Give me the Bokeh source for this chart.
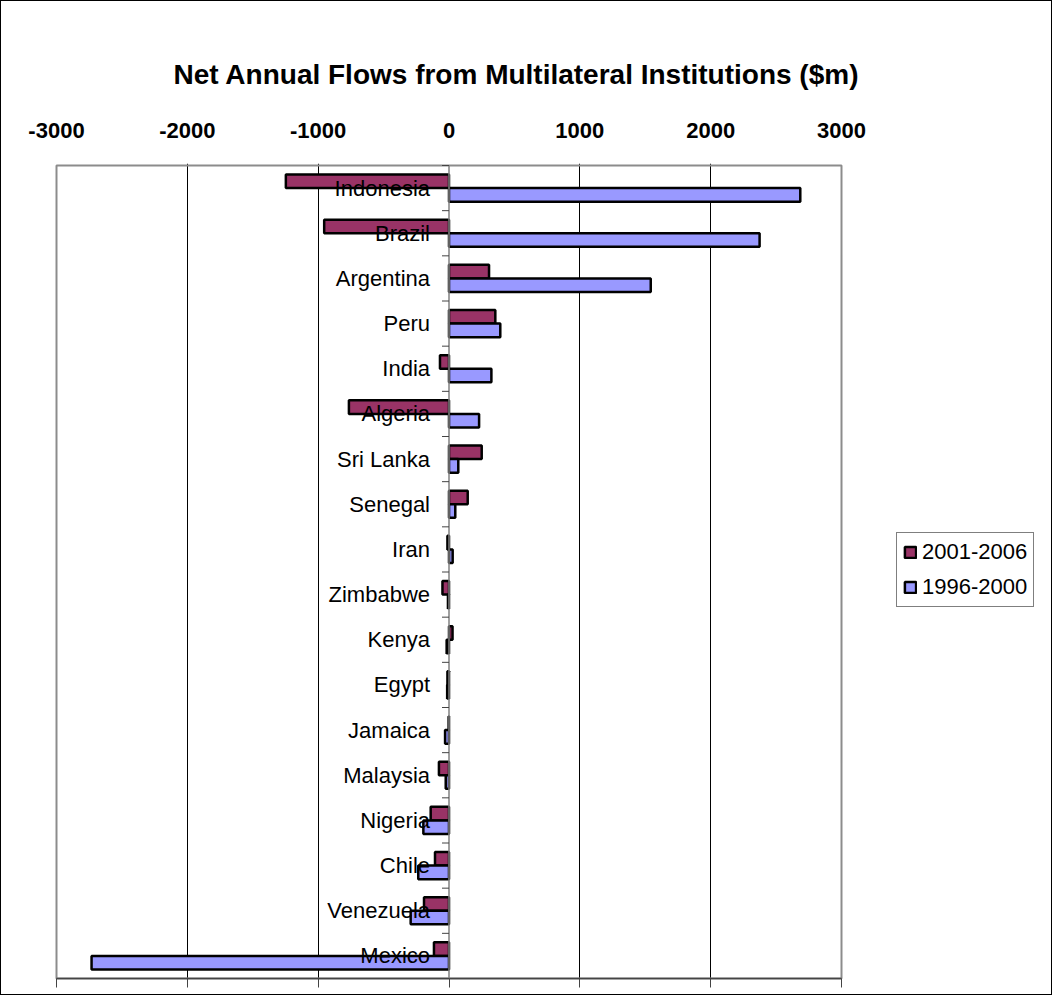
from bokeh.plotting import figure
from bokeh.models import (LinearAxis, Legend, LegendItem, FixedTicker, Range1d, Title,
                          PrintfTickFormatter)
from bokeh.embed import file_html
from bokeh.resources import INLINE
from bokeh.core.properties import value
import numpy as np

title_text = "Net Annual Flows from Multilateral Institutions ($m)"
countries = ["Indonesia", "Brazil", "Argentina", "Peru", "India", "Algeria", "Sri Lanka",
             "Senegal", "Iran", "Zimbabwe", "Kenya", "Egypt", "Jamaica", "Malaysia",
             "Nigeria", "Chile", "Venezuela", "Mexico"]
flows_2001_2006 = [-1247, -954, 306, 354, -69, -765, 250, 143, -12, -50, 27, -12, -3, -77,
                   -140, -107, -191, -115]
flows_1996_2000 = [2685, 2374, 1542, 392, 324, 230, 71, 48, 28, -8, -18, -14, -30, -25,
                   -196, -235, -293, -2732]
series_names = ["2001-2006", "1996-2000"]
x_ticks = [-3000, -2000, -1000, 0, 1000, 2000, 3000]
grid_ticks = [-2000, -1000, 1000, 2000]

RED = "#993366"
BLUE = "#9999FF"
FONT = "Liberation Sans"

W, H = 1052, 995
n = len(countries)
XMIN, XMAX = x_ticks[0], x_ticks[-1]
# plot area in figure pixels: x from 55 to 840, y from 164 (top) to 977 (bottom)
PL, PR, PT, PB = 55, 840, 164, 977
ux = (XMAX - XMIN) / (PR - PL)          # data units per pixel
uy = n / (PB - PT)
FL, FT, FB = PL - 2, PT - 2, PB + 2      # frame slightly larger so borders are not clipped
X_END = XMAX + (W - PR) * ux

pos = np.arange(n)[::-1] + 0.5

p = figure(width=W, height=H,
           x_range=Range1d(XMIN - (PL - FL) * ux, X_END),
           y_range=Range1d(-(FB - PB) * uy, n + (PT - FT) * uy),
           x_axis_location="above", y_axis_location=None,
           output_backend="svg", toolbar_location=None,
           min_border_left=FL, min_border_right=0,
           min_border_top=FT, min_border_bottom=H - FB)
p.styles = {"border": "1px solid black"}
p.background_fill_color = "white"
p.border_fill_color = "white"
p.outline_line_color = None

# top axis (labels)
ax = p.xaxis[0]
ax.ticker = FixedTicker(ticks=x_ticks)
ax.formatter = PrintfTickFormatter(format="%d")
ax.axis_line_color = None
ax.major_tick_out = 0
ax.major_tick_in = 0
ax.minor_tick_out = 0
ax.minor_tick_in = 0
ax.major_label_standoff = 26
ax.major_label_text_font = FONT
ax.major_label_text_font_size = "22px"
ax.major_label_text_font_style = "bold"
ax.major_label_text_color = "black"

# empty gap between the axis labels and the title (a white tick in the blank right corner)
p.add_layout(LinearAxis(ticker=FixedTicker(ticks=[X_END - 20 * ux]), axis_line_color=None,
                        major_tick_line_color="white", minor_tick_line_color=None,
                        major_tick_out=25, major_tick_in=0, minor_tick_out=0, minor_tick_in=0,
                        major_label_standoff=0, major_label_text_color=None), "above")

p.add_layout(Title(text=title_text, align="left", offset=119, standoff=10,
                   text_font=FONT, text_font_size="28px", text_font_style="bold",
                   text_color="black"), "above")

# bottom axis (ticks only)
bax = LinearAxis(ticker=FixedTicker(ticks=x_ticks), major_label_text_color=None,
                 axis_line_color=None, major_tick_line_color="#444444",
                 major_tick_out=7, major_tick_in=2, minor_tick_out=0, minor_tick_in=0,
                 major_label_standoff=0, major_label_text_font_size="8px")
p.add_layout(bax, "below")

p.xgrid.ticker = FixedTicker(ticks=grid_ticks)
p.xgrid.grid_line_color = "black"
p.xgrid.grid_line_width = 1
p.ygrid.visible = False

# plot-area border and bottom axis line
p.quad(left=XMIN, right=XMAX, bottom=0, top=n, fill_color=None,
       line_color="#8c8c8c", line_width=2)
p.segment(x0=XMIN, x1=XMAX, y0=0, y1=0, line_color="#444444", line_width=1.5)

r_red = p.hbar(y=pos + 0.15, left=0, right=flows_2001_2006, height=0.3,
               fill_color=RED, line_color="black", line_width=2.5)
r_blue = p.hbar(y=pos - 0.15, left=0, right=flows_1996_2000, height=0.3,
                fill_color=BLUE, line_color="black", line_width=2.5)

# category axis crossing at zero, with ticks between categories
p.segment(x0=0, x1=0, y0=0, y1=n, line_color="#808080", line_width=1.5)
bounds = np.arange(n + 1)
p.segment(x0=-7 * ux, x1=0, y0=bounds, y1=bounds, line_color="#444444", line_width=1)

p.text(x=np.zeros(n), y=pos, text=countries, x_offset=-19, text_align="right",
       text_baseline="middle", text_font=value(FONT), text_font_size="22px",
       text_color="black")

legend = Legend(items=[LegendItem(label=series_names[0], renderers=[r_red]),
                       LegendItem(label=series_names[1], renderers=[r_blue])],
                location=(895 - FL, FB - 606), orientation="vertical",
                padding=6, spacing=9, margin=0, glyph_width=14, glyph_height=14,
                label_standoff=5, label_text_font=FONT, label_text_font_size="22px",
                label_text_color="black",
                border_line_color="black", border_line_width=1,
                background_fill_color="white", background_fill_alpha=1)
p.add_layout(legend, "center")

open("out.html", "w").write(file_html(p, INLINE))
